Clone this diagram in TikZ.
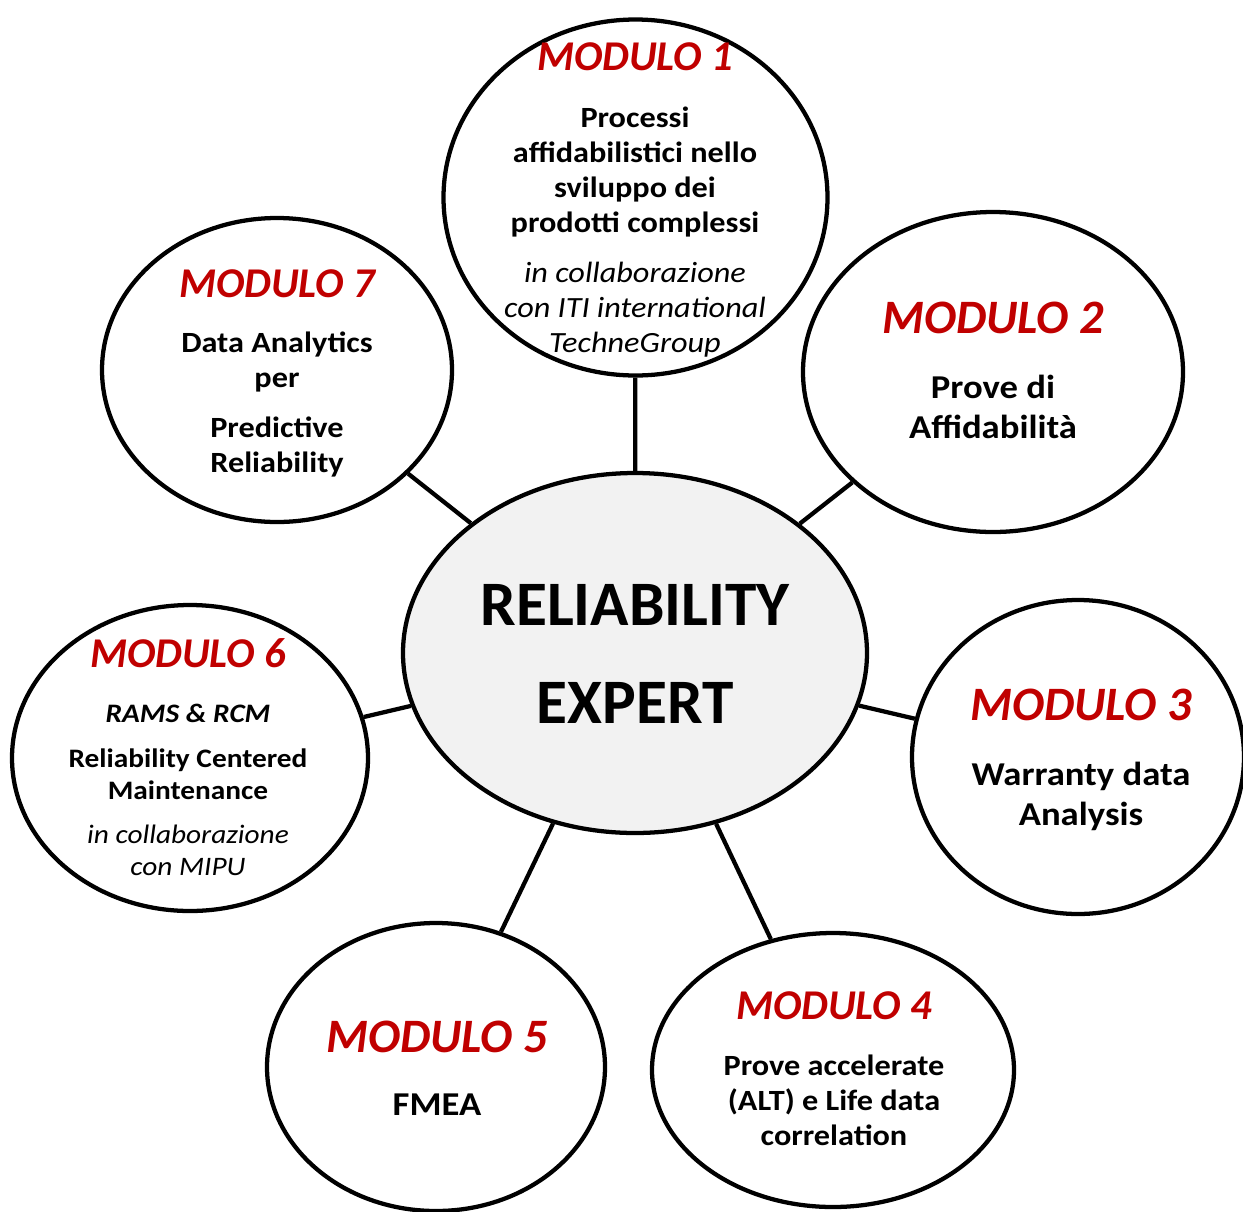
\documentclass[tikz,border=0pt]{standalone}
\usepackage{fontspec}
\setmainfont{Carlito}
\newfontfamily\widefont{Carlito}[FakeStretch=1.1]
\usetikzlibrary{shapes.geometric}
\definecolor{modred}{HTML}{C00000}
\definecolor{coregray}{HTML}{F2F2F2}
\def\fsz#1#2{\fontsize{#1}{#2}\selectfont}
\tikzset{
	modulo/.style={draw=black, line width=3.2pt, ellipse, inner sep=0pt, fill=white},
	link/.style={draw=black, line width=3.2pt},
	head/.style={anchor=base, inner sep=0pt, text=modred, font=\fsz{#1}{#1}\bfseries\itshape},
	body/.style args={#1/#2}{anchor=base, inner sep=0pt, align=center, font=\widefont\fsz{#1}{#2}\bfseries},
	note/.style args={#1/#2}{anchor=base, inner sep=0pt, align=center, font=\widefont\fsz{#1}{#2}\itshape},
}

\begin{document}
\begin{tikzpicture}[x=0.75pt, y=-0.75pt]
			%%%%% START %%%%%
			
			\useasboundingbox (0, 0) rectangle (1243, 1211);
			
			\node[modulo, fill=coregray, minimum width=348pt, minimum height=270pt] (core) at (635, 653) {};
			\node[modulo, minimum width=288pt, minimum height=267pt] (m1) at (635.5, 197.5) {};
			\node[modulo, minimum width=285pt, minimum height=240pt] (m2) at (993, 372) {};
			\node[modulo, minimum width=249pt, minimum height=235.5pt] (m3) at (1078, 757) {};
			\node[modulo, minimum width=271.5pt, minimum height=205.5pt] (m4) at (833, 1070) {};
			\node[modulo, minimum width=253.5pt, minimum height=216pt] (m5) at (436, 1067) {};
			\node[modulo, minimum width=267pt, minimum height=229.5pt] (m6) at (190, 758) {};
			\node[modulo, minimum width=262.5pt, minimum height=228pt] (m7) at (277, 370) {};
			
			\draw[link] (m1) -- (core);
			\draw[link] (m2) -- (core);
			\draw[link] (m3) -- (core);
			\draw[link] (m4) -- (core);
			\draw[link] (m5) -- (core);
			\draw[link] (m6) -- (core);
			\draw[link] (m7) -- (core);
			
			\node[anchor=base, inner sep=0pt, align=center, font=\fsz{47.5}{73.5}\bfseries] (coretext) at (635, 723) {RELIABILITY\\EXPERT};
			
			\node[head=31.8] (m1head) at (635, 70) {MODULO 1};
			\node[body=22/26.25] (m1body) at (635, 232) {Processi\\affidabilistici nello\\sviluppo dei\\prodotti complessi};
			\node[note=22/26.25] (m1note) at (635, 352) {in collaborazione\\con ITI international\\TechneGroup};
			
			\node[head=36] (m2head) at (993, 333) {MODULO 2};
			\node[body=25/30] (m2body) at (993, 438) {Prove di\\Affidabilità};
			
			\node[head=36] (m3head) at (1081, 720) {MODULO 3};
			\node[body=25/30] (m3body) at (1081, 825) {Warranty data\\Analysis};
			
			\node[head=31.8] (m4head) at (834, 1019) {MODULO 4};
			\node[body=22/26] (m4body) at (834, 1145) {Prove accelerate\\(ALT) e Life data\\correlation};
			
			\node[head=36] (m5head) at (437, 1052) {MODULO 5};
			\node[body=25/30] (m5body) at (437, 1115) {FMEA};
			
			\node[head=31.8] (m6head) at (188, 667) {MODULO 6};
			\node[body=20/24, font=\widefont\fsz{20}{24}\bfseries\itshape] (m6sub) at (188, 722) {RAMS \& RCM};
			\node[body=20/24] (m6body) at (188, 799) {Reliability Centered\\Maintenance};
			\node[note=20/24] (m6note) at (188, 875) {in collaborazione\\con MIPU};
			
			\node[head=31.8] (m7head) at (277, 297) {MODULO 7};
			\node[body=22/26] (m7body) at (277, 472) {Data Analytics\\per\\[11.5pt]Predictive\\Reliability};
			
			%%%%% END %%%%%
\end{tikzpicture}
\end{document}
